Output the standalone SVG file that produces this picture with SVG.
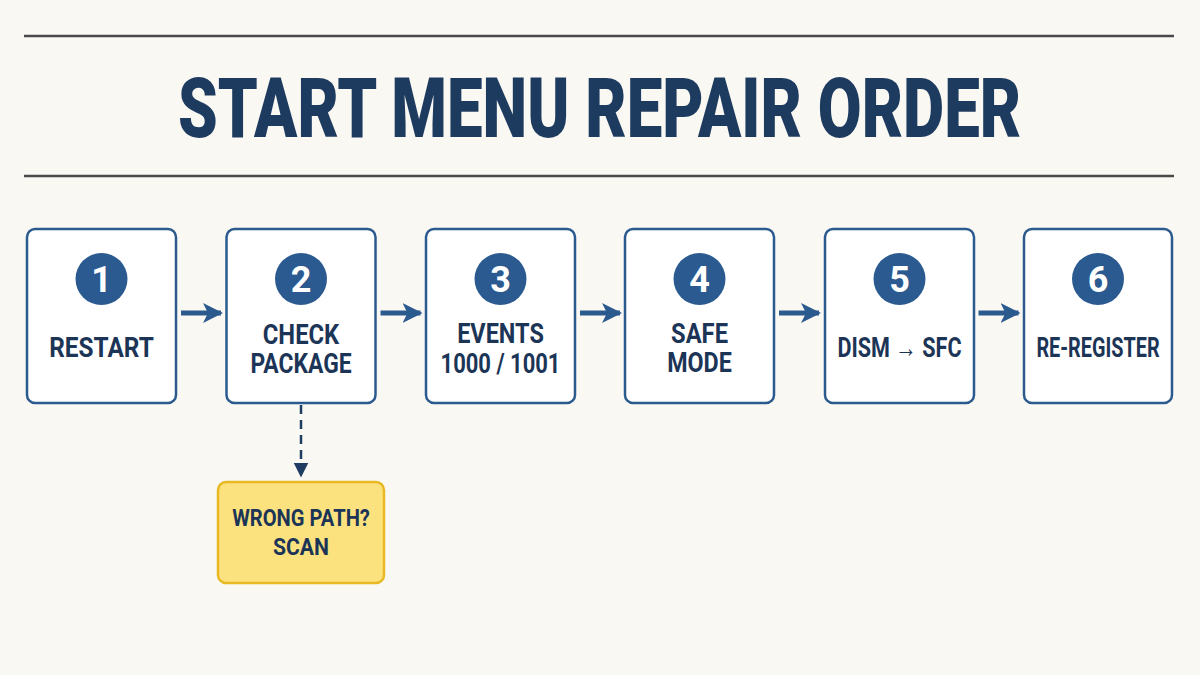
<svg xmlns="http://www.w3.org/2000/svg" width="1200" height="675" viewBox="0 0 1200 675">
<defs>
<style>
.bg{fill:#faf8f3}
.rule{stroke:#4a4a4a;stroke-width:2.5}
.title{font-family:Roboto,"Liberation Sans",sans-serif;font-weight:900;font-size:84px;fill:#1d3a5f}
.box{fill:#ffffff;stroke:#2b5a8e;stroke-width:2.5}
.badge{fill:#2a5a8f}
.num{font-family:Roboto,"Liberation Sans",sans-serif;font-weight:700;font-size:36px;fill:#ffffff;text-anchor:middle}
.lbl{font-family:Roboto,"Liberation Sans",sans-serif;font-weight:700;font-size:27px;fill:#1c3557;text-anchor:middle}
.sm{font-size:24px}
.flow{stroke:#2b5a8e;stroke-width:5;fill:none}
.dash{stroke:#1f3d63;stroke-width:2.5;stroke-dasharray:9 6;fill:none}
.note{fill:#fbe27f;stroke:#e8b923;stroke-width:2.5}
</style>
<marker id="ah" viewBox="0 0 10 10" refX="9" refY="5" markerWidth="4" markerHeight="5" orient="auto" markerUnits="strokeWidth">
<path d="M0,0 L10,5 L0,10 L2.5,5 Z" fill="#2b5a8e"/>
</marker>
<marker id="ahd" viewBox="0 0 10 10" refX="9" refY="5" markerWidth="6" markerHeight="7" orient="auto" markerUnits="strokeWidth">
<path d="M0,0 L10,5 L0,10 Z" fill="#1f3d63"/>
</marker>
</defs>
<rect class="bg" x="0" y="0" width="1200" height="675"/>
<g id="header">
<line class="rule" x1="24" y1="36" x2="1174" y2="36"/>
<text class="title" transform="translate(178,137) scale(0.85,1)" x="0" y="0" textLength="992" lengthAdjust="spacingAndGlyphs">START MENU REPAIR ORDER</text>
<line class="rule" x1="24" y1="176" x2="1174" y2="176"/>
</g>
<g id="connectors">
<line class="flow" x1="181" y1="313" x2="221" y2="313" marker-end="url(#ah)"/>
<line class="flow" x1="380.5" y1="313" x2="420.5" y2="313" marker-end="url(#ah)"/>
<line class="flow" x1="580" y1="313" x2="620" y2="313" marker-end="url(#ah)"/>
<line class="flow" x1="779" y1="313" x2="819" y2="313" marker-end="url(#ah)"/>
<line class="flow" x1="978.5" y1="313" x2="1018.5" y2="313" marker-end="url(#ah)"/>
<line class="dash" x1="301" y1="405" x2="301" y2="476" marker-end="url(#ahd)"/>
</g>
<g id="step1">
<rect class="box" x="27" y="229" width="149" height="174" rx="8"/>
<circle class="badge" cx="101.5" cy="279" r="26"/>
<text class="num" x="101.5" y="292">1</text>
<text class="lbl" transform="translate(101.5,357) scale(0.85,1)" textLength="123" lengthAdjust="spacingAndGlyphs">RESTART</text>
</g>
<g id="step2">
<rect class="box" x="226.5" y="229" width="149" height="174" rx="8"/>
<circle class="badge" cx="301" cy="279" r="26"/>
<text class="num" x="301" y="292">2</text>
<text class="lbl" transform="translate(301,344) scale(0.85,1)" textLength="90" lengthAdjust="spacingAndGlyphs">CHECK</text>
<text class="lbl" transform="translate(301,373) scale(0.85,1)" textLength="119" lengthAdjust="spacingAndGlyphs">PACKAGE</text>
</g>
<g id="step3">
<rect class="box" x="426" y="229" width="149" height="174" rx="8"/>
<circle class="badge" cx="500.5" cy="279" r="26"/>
<text class="num" x="500.5" y="292">3</text>
<text class="lbl" transform="translate(500.5,343) scale(0.85,1)" textLength="102" lengthAdjust="spacingAndGlyphs">EVENTS</text>
<text class="lbl" transform="translate(500.5,373) scale(0.85,1)" textLength="141" lengthAdjust="spacingAndGlyphs">1000 / 1001</text>
</g>
<g id="step4">
<rect class="box" x="625" y="229" width="149" height="174" rx="8"/>
<circle class="badge" cx="699.5" cy="279" r="26"/>
<text class="num" x="699.5" y="292">4</text>
<text class="lbl" transform="translate(699.5,343) scale(0.85,1)" textLength="67" lengthAdjust="spacingAndGlyphs">SAFE</text>
<text class="lbl" transform="translate(699.5,372) scale(0.85,1)" textLength="76" lengthAdjust="spacingAndGlyphs">MODE</text>
</g>
<g id="step5">
<rect class="box" x="825" y="229" width="149" height="174" rx="8"/>
<circle class="badge" cx="899.5" cy="279" r="26"/>
<text class="num" x="899.5" y="292">5</text>
<text class="lbl" transform="translate(899.5,357) scale(0.85,1)" textLength="146" lengthAdjust="spacingAndGlyphs">DISM → SFC</text>
</g>
<g id="step6">
<rect class="box" x="1024" y="229" width="148" height="174" rx="8"/>
<circle class="badge" cx="1098" cy="279" r="26"/>
<text class="num" x="1098" y="292">6</text>
<text class="lbl" transform="translate(1098,357) scale(0.85,1)" textLength="145" lengthAdjust="spacingAndGlyphs">RE-REGISTER</text>
</g>
<g id="note">
<rect class="note" x="218" y="482" width="166" height="101" rx="8"/>
<text class="lbl sm" transform="translate(301,526) scale(0.85,1)" textLength="162" lengthAdjust="spacingAndGlyphs">WRONG PATH?</text>
<text class="lbl sm" transform="translate(301,555) scale(0.85,1)" textLength="66" lengthAdjust="spacingAndGlyphs">SCAN</text>
</g>
</svg>
